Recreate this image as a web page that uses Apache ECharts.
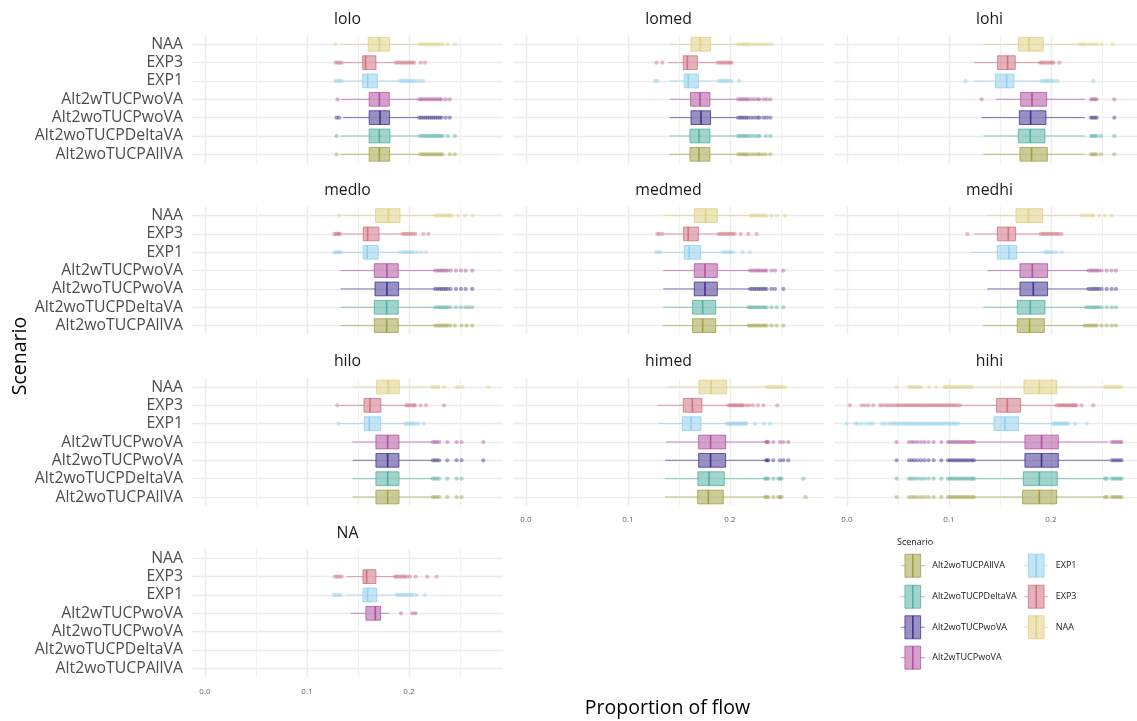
<!DOCTYPE html>
<html><head><meta charset="utf-8">
<script src="https://cdn.jsdelivr.net/npm/echarts@6/dist/echarts.min.js"></script>
<style>html,body{margin:0;padding:0;background:#fff}#c{width:1137px;height:721px}</style>
</head><body><div id="c"></div>
<script>
// ---------- categories ----------
const scenarios = ['Alt2woTUCPAllVA','Alt2woTUCPDeltaVA','Alt2woTUCPwoVA','Alt2wTUCPwoVA','EXP1','EXP3','NAA'];
const panelNames = ['lolo','lomed','lohi','medlo','medmed','medhi','hilo','himed','hihi','NA'];
const colors = ['#999933','#44AA99','#332288','#AA4499','#88CCEE','#CC6677','#DDCC77'];
const legendOrder = [0,1,2,3,4,5,6];

// ---------- box stats: [min whisker, Q1, median, Q3, max whisker], order = scenarios ----------
const box_lolo = [
 [0.133,0.161,0.171,0.181,0.210],[0.133,0.161,0.171,0.1814,0.210],[0.1356,0.161,0.1716,0.181,0.209],
 [0.1335,0.161,0.171,0.1807,0.209],[0.135,0.1546,0.1595,0.169,0.190],[0.135,0.1546,0.1575,0.1676,0.186],
 [0.133,0.160,0.171,0.181,0.209]];
const box_lomed = [
 [0.1405,0.1608,0.1696,0.1804,0.207],[0.1405,0.1608,0.1696,0.1804,0.207],[0.141,0.1618,0.1716,0.181,0.207],
 [0.141,0.1614,0.1706,0.1804,0.207],[0.1402,0.1552,0.1591,0.169,0.188],[0.1395,0.1542,0.1582,0.168,0.187],
 [0.1405,0.1618,0.1709,0.181,0.2075]];
const box_lohi = [
 [0.1337,0.1696,0.181,0.1964,0.2333],[0.1337,0.168,0.1797,0.1941,0.2333],[0.132,0.169,0.1801,0.1951,0.2333],
 [0.1458,0.1703,0.1814,0.1958,0.2333],[0.1239,0.1458,0.1566,0.1637,0.1905],[0.1245,0.1477,0.1575,0.165,0.189],
 [0.1337,0.168,0.1784,0.1925,0.228]];
const box_medlo = [
 [0.133,0.166,0.1781,0.1895,0.2255],[0.133,0.166,0.1781,0.1895,0.2255],[0.133,0.1667,0.1784,0.1899,0.2255],
 [0.133,0.166,0.1784,0.1895,0.2255],[0.134,0.1552,0.1591,0.1699,0.1912],[0.134,0.1552,0.1595,0.1706,0.1938],
 [0.1356,0.1673,0.1797,0.1912,0.2255]];
const box_medmed = [
 [0.1346,0.1634,0.1732,0.186,0.218],[0.1346,0.1634,0.1732,0.186,0.218],[0.1346,0.165,0.1755,0.1876,0.2196],
 [0.1346,0.165,0.1755,0.1876,0.2196],[0.1346,0.1552,0.1601,0.1712,0.1928],[0.1346,0.1546,0.1591,0.169,0.1885],
 [0.1346,0.165,0.1762,0.1876,0.2203]];
const box_medhi = [
 [0.1337,0.167,0.179,0.1935,0.2327],[0.1337,0.167,0.1797,0.1941,0.2343],[0.1376,0.1696,0.1827,0.1967,0.2366],
 [0.1376,0.1696,0.1817,0.1967,0.2366],[0.1216,0.1474,0.1588,0.1664,0.1941],[0.1245,0.1474,0.1582,0.1654,0.1899],
 [0.137,0.1657,0.1778,0.1918,0.2301]];
const box_hilo = [
 [0.1448,0.1676,0.1791,0.1902,0.2232],[0.1448,0.1676,0.1791,0.1902,0.2232],[0.1448,0.1676,0.1791,0.1902,0.2232],
 [0.1448,0.1676,0.1791,0.1902,0.2232],[0.132,0.1562,0.1611,0.1722,0.1961],[0.132,0.1559,0.1618,0.1725,0.1971],
 [0.1454,0.1683,0.1797,0.1905,0.2229]];
const box_himed = [
 [0.1363,0.1683,0.1788,0.1934,0.2343],[0.1363,0.1686,0.1794,0.1944,0.2343],[0.1363,0.1693,0.181,0.1958,0.2353],
 [0.1373,0.1693,0.181,0.1958,0.2353],[0.1297,0.1533,0.1618,0.1716,0.1967],[0.1291,0.1542,0.1631,0.1725,0.1984],
 [0.1386,0.1696,0.1814,0.1967,0.236]];
const box_hihi = [
 [0.1255,0.1722,0.1886,0.2056,0.2529],[0.1255,0.1729,0.1886,0.2062,0.2529],[0.1255,0.1745,0.1908,0.2072,0.2575],
 [0.1255,0.1745,0.1908,0.2072,0.2562],[0.1095,0.1441,0.1549,0.168,0.2016],[0.111,0.1467,0.1572,0.1703,0.2056],
 [0.1245,0.1735,0.1886,0.2056,0.2529]];
const box_NA = [
 null,null,null,
 [0.1428,0.1578,0.167,0.1722,0.1807],[0.1389,0.1549,0.1595,0.1683,0.1879],[0.1389,0.1549,0.1585,0.1676,0.1863],
 null];

// ---------- outliers, order = scenarios ----------
const out_lolo = [
 [0.129,0.211,0.213,0.215,0.217,0.219,0.221,0.223,0.225,0.227,0.229,0.231,0.233,0.240,0.245],
 [0.129,0.211,0.213,0.215,0.217,0.219,0.221,0.223,0.225,0.227,0.229,0.231,0.233,0.238,0.245],
 [0.129,0.1315,0.210,0.212,0.214,0.216,0.218,0.220,0.222,0.224,0.226,0.228,0.230,0.232,0.236,0.240],
 [0.130,0.210,0.212,0.214,0.216,0.218,0.220,0.222,0.224,0.226,0.228,0.230,0.232,0.236,0.240],
 [0.128,0.130,0.132,0.134,0.191,0.193,0.195,0.197,0.199,0.201,0.203,0.205,0.208,0.211,0.214],
 [0.128,0.130,0.132,0.134,0.187,0.189,0.191,0.193,0.195,0.197,0.199,0.201,0.203,0.205,0.2115,0.2157],
 [0.128,0.210,0.212,0.214,0.216,0.218,0.220,0.222,0.224,0.226,0.228,0.230,0.233,0.238,0.245]];
const out_lomed = [
 [0.208,0.210,0.212,0.214,0.216,0.218,0.221,0.224,0.227,0.229,0.232,0.235,0.2395],
 [0.208,0.210,0.212,0.214,0.216,0.218,0.221,0.224,0.227,0.229,0.235,0.2395],
 [0.208,0.210,0.212,0.214,0.216,0.218,0.221,0.224,0.227,0.229,0.233,0.236,0.2395],
 [0.208,0.210,0.212,0.214,0.216,0.218,0.221,0.224,0.227,0.229,0.233,0.236,0.2395],
 [0.1265,0.129,0.189,0.191,0.193,0.195,0.197,0.199,0.2015,0.209],
 [0.128,0.1336,0.188,0.190,0.192,0.194,0.196,0.198,0.200,0.2015],
 [0.208,0.210,0.212,0.214,0.216,0.218,0.220,0.223,0.226,0.229,0.232,0.235,0.238,0.241]];
const out_lohi = [
 [0.2392,0.241,0.243,0.2448,0.249,0.2621],
 [0.2392,0.241,0.243,0.2448,0.249,0.2621],
 [0.2392,0.241,0.243,0.2448,0.2621],
 [0.132,0.2392,0.241,0.243,0.2448,0.2621],
 [0.1163,0.191,0.193,0.195,0.197,0.199,0.201,0.203,0.2065,0.2415],
 [0.1895,0.191,0.193,0.195,0.197,0.199,0.201,0.2025,0.2082],
 [0.2285,0.231,0.233,0.236,0.239,0.242,0.245,0.2495,0.2605]];
const out_medlo = [
 [0.2258,0.228,0.230,0.232,0.234,0.236,0.238,0.2408,0.2451,0.2516,0.2565,0.262],
 [0.2258,0.228,0.230,0.232,0.234,0.236,0.238,0.2408,0.2461,0.251,0.2556,0.2588,0.262],
 [0.2258,0.228,0.230,0.232,0.234,0.236,0.238,0.2408,0.2461,0.251,0.2556,0.262],
 [0.2258,0.228,0.230,0.232,0.234,0.236,0.238,0.2408,0.2461,0.251,0.2556,0.262],
 [0.1268,0.1285,0.130,0.1315,0.1333,0.1915,0.194,0.196,0.198,0.200,0.202,0.204,0.2075,0.212,0.2167],
 [0.1268,0.1285,0.130,0.1315,0.1324,0.194,0.196,0.198,0.200,0.202,0.204,0.2062,0.2141,0.219],
 [0.1317,0.2258,0.228,0.230,0.232,0.234,0.236,0.238,0.240,0.2418,0.2484,0.2549,0.2624]];
const out_medmed = [
 [0.2182,0.220,0.222,0.224,0.226,0.228,0.230,0.232,0.234,0.2359,0.2408,0.2458,0.2523],
 [0.2182,0.220,0.222,0.224,0.226,0.228,0.230,0.232,0.234,0.2359,0.2408,0.2458,0.2523],
 [0.2198,0.222,0.224,0.226,0.228,0.230,0.232,0.234,0.2359,0.2408,0.2441,0.2523],
 [0.2198,0.222,0.224,0.226,0.228,0.230,0.232,0.234,0.2359,0.2408,0.2441,0.2523],
 [0.1275,0.1298,0.132,0.193,0.195,0.197,0.199,0.201,0.2034,0.2124,0.2196],
 [0.1288,0.131,0.1336,0.189,0.191,0.193,0.195,0.197,0.199,0.201,0.203,0.2049,0.2105,0.218,0.2262],
 [0.2205,0.222,0.224,0.226,0.228,0.230,0.232,0.234,0.2359,0.2408,0.2458,0.2539]];
const out_medhi = [
 [0.2329,0.235,0.237,0.239,0.241,0.243,0.245,0.2497,0.2546,0.2595,0.2637],
 [0.2345,0.237,0.239,0.241,0.243,0.245,0.247,0.2497,0.2546,0.2595,0.2637],
 [0.2368,0.239,0.241,0.243,0.245,0.247,0.2497,0.2546,0.2595,0.2637],
 [0.2368,0.239,0.241,0.243,0.245,0.247,0.2497,0.2546,0.2595,0.2637],
 [0.1943,0.196,0.198,0.200,0.202,0.2055,0.2105],
 [0.118,0.1901,0.192,0.194,0.196,0.198,0.200,0.202,0.204,0.206,0.208,0.2105],
 [0.2303,0.2325,0.235,0.2375,0.240,0.2415,0.2474,0.2529,0.2595]];
const out_hilo = [
 [0.2234,0.2255,0.2275,0.2297,0.2376,0.2467,0.2516],
 [0.2234,0.2255,0.2275,0.2297,0.2376,0.2467,0.2516],
 [0.2234,0.2255,0.2275,0.2297,0.2376,0.2467,0.2516,0.2729],
 [0.2234,0.2255,0.2275,0.2297,0.2376,0.2467,0.2516,0.2729],
 [0.1307,0.1963,0.198,0.200,0.202,0.204,0.206,0.2092,0.2147],
 [0.1297,0.1973,0.199,0.201,0.203,0.205,0.2059,0.2114,0.2167,0.2343],
 [0.2231,0.225,0.2272,0.2288,0.2346,0.2467,0.249,0.2526,0.2778]];
const out_himed = [
 [0.2345,0.236,0.2376,0.2425,0.2475,0.249,0.2507,0.2742],
 [0.2345,0.236,0.2376,0.2425,0.2475,0.249,0.2507,0.2719],
 [0.2355,0.2365,0.2376,0.2425,0.249,0.2523,0.2572],
 [0.2355,0.2365,0.2376,0.2425,0.249,0.2523,0.2572],
 [0.1969,0.1985,0.200,0.2015,0.203,0.2045,0.206,0.2075,0.209,0.2105,0.212,0.2135,0.215,0.2163,0.2245,0.2333,0.2392],
 [0.1986,0.200,0.2015,0.203,0.2045,0.206,0.2075,0.209,0.2105,0.212,0.2131,0.2163,0.219,0.2225,0.2275,0.2327,0.2464],
 [0.2362,0.238,0.240,0.242,0.244,0.246,0.248,0.250,0.252,0.2542]];
const out_hihi = [
 [0.0487,0.0608,0.0635,0.066,0.069,0.0725,0.076,0.080,0.085,0.0925,0.099,0.101,0.103,0.105,0.107,0.109,0.111,0.113,0.115,0.117,0.119,0.121,0.123,0.1245,
  0.2531,0.255,0.2595,0.2615,0.2635,0.2655,0.2675,0.2693],
 [0.0487,0.0608,0.0635,0.066,0.069,0.0725,0.076,0.080,0.085,0.0925,0.099,0.101,0.103,0.105,0.107,0.109,0.111,0.113,0.115,0.117,0.119,0.121,0.123,0.1245,
  0.2531,0.255,0.2595,0.2615,0.2635,0.2655,0.2675,0.2693],
 [0.0487,0.0608,0.0635,0.066,0.069,0.0725,0.076,0.080,0.085,0.0925,0.099,0.101,0.103,0.105,0.107,0.109,0.111,0.113,0.115,0.117,0.119,0.121,0.123,0.1245,
  0.2595,0.2615,0.2635,0.2655,0.2675,0.2693],
 [0.0487,0.0608,0.0635,0.066,0.069,0.0725,0.076,0.080,0.085,0.0925,0.099,0.101,0.103,0.105,0.107,0.109,0.111,0.113,0.115,0.117,0.119,0.121,0.123,0.1245,
  0.2595,0.2615,0.2635,0.2655,0.2675,0.2693],
 [-0.0003,0.0078,0.0105,0.0145,0.019,0.0225,0.0258,0.0343,0.037,0.040,0.0425,0.045,0.047,0.049,0.051,0.053,0.055,0.057,0.059,0.061,0.063,0.065,0.067,0.069,
  0.071,0.073,0.075,0.077,0.079,0.081,0.083,0.085,0.087,0.089,0.091,0.093,0.095,0.097,0.099,0.101,0.103,0.105,0.107,0.109,
  0.2018,0.2035,0.205,0.2065,0.208,0.2095,0.211,0.2125,0.214,0.2155,0.217,0.2235,0.235],
 [0.0029,0.0144,0.0175,0.021,0.0258,0.0323,0.035,0.038,0.0405,0.043,0.0455,0.048,0.050,0.052,0.054,0.056,0.058,0.060,0.062,0.064,0.066,0.068,0.070,0.072,
  0.074,0.076,0.078,0.080,0.082,0.084,0.086,0.088,0.090,0.092,0.094,0.096,0.098,0.100,0.102,0.104,0.106,0.108,0.1105,
  0.2058,0.2075,0.209,0.2105,0.212,0.2135,0.215,0.2165,0.218,0.2195,0.221,0.2225,0.224,0.2252,0.2301,0.2415],
 [0.0487,0.0605,0.0625,0.0645,0.0665,0.0685,0.0705,0.073,0.0807,0.0872,0.0954,0.097,0.099,0.101,0.103,0.105,0.107,0.109,0.111,0.113,0.115,0.117,0.119,0.121,0.123,
  0.2531,0.255,0.257,0.259,0.261,0.263,0.265,0.267,0.2693]];
const out_NA = [
 [],[],[],
 [0.1922,0.2033,0.2065],
 [0.1265,0.1285,0.131,0.1333,0.188,0.190,0.192,0.194,0.196,0.198,0.200,0.202,0.204,0.2075,0.2157],
 [0.1275,0.1295,0.1315,0.134,0.1865,0.188,0.190,0.192,0.194,0.196,0.198,0.201,0.2065,0.218,0.2271],
 []];

// ---------- layout ----------
const FONT = 'Open Sans';
const colLeft = [192, 513, 834];
const rowTop = [33.3, 204.6, 376, 547.3];
const PANEL_W = 311, PANEL_H = 132;
const BAND = PANEL_H / 7.2;
const X_MIN = -0.0127, X_MAX = 0.2922;

const panels = [
 {title:'lolo',   box:box_lolo,   out:out_lolo,   col:0,row:0,ylab:true, xlab:false},
 {title:'lomed',  box:box_lomed,  out:out_lomed,  col:1,row:0,ylab:false,xlab:false},
 {title:'lohi',   box:box_lohi,   out:out_lohi,   col:2,row:0,ylab:false,xlab:false},
 {title:'medlo',  box:box_medlo,  out:out_medlo,  col:0,row:1,ylab:true, xlab:false},
 {title:'medmed', box:box_medmed, out:out_medmed, col:1,row:1,ylab:false,xlab:false},
 {title:'medhi',  box:box_medhi,  out:out_medhi,  col:2,row:1,ylab:false,xlab:false},
 {title:'hilo',   box:box_hilo,   out:out_hilo,   col:0,row:2,ylab:true, xlab:false},
 {title:'himed',  box:box_himed,  out:out_himed,  col:1,row:2,ylab:false,xlab:true},
 {title:'hihi',   box:box_hihi,   out:out_hihi,   col:2,row:2,ylab:false,xlab:true},
 {title:'NA',     box:box_NA,     out:out_NA,     col:0,row:3,ylab:true, xlab:true}
];

function rgba(hex, a) {
  const n = parseInt(hex.slice(1), 16);
  return 'rgba(' + ((n >> 16) & 255) + ',' + ((n >> 8) & 255) + ',' + (n & 255) + ',' + a + ')';
}

function renderBox(params, api) {
  const cat = api.value(0);
  const lo = api.coord([api.value(1), cat]);
  const q1 = api.coord([api.value(2), cat]);
  const md = api.coord([api.value(3), cat]);
  const q3 = api.coord([api.value(4), cat]);
  const hi = api.coord([api.value(5), cat]);
  const h = api.size([0, 1])[1] * 0.75;
  const c = colors[cat];
  return {
    type: 'group',
    children: [
      {type:'line', shape:{x1:lo[0],y1:lo[1],x2:q1[0],y2:q1[1]}, style:{stroke:rgba(c,0.6),lineWidth:1}},
      {type:'line', shape:{x1:q3[0],y1:q3[1],x2:hi[0],y2:hi[1]}, style:{stroke:rgba(c,0.6),lineWidth:1}},
      {type:'rect', shape:{x:q1[0],y:q1[1]-h/2,width:q3[0]-q1[0],height:h},
       style:{fill:rgba(c,0.5),stroke:rgba(c,0.7),lineWidth:1}},
      {type:'line', shape:{x1:md[0],y1:md[1]-h/2,x2:md[0],y2:md[1]+h/2}, style:{stroke:rgba(c,0.85),lineWidth:1.6}}
    ]
  };
}

const grids = [], xAxes = [], yAxes = [], series = [], graphics = [];

panels.forEach((p, i) => {
  const left = colLeft[p.col];
  const top = rowTop[p.row];
  grids.push({left:left, top:top + 0.1*BAND, width:PANEL_W, height:7*BAND,
              containLabel:false, outerBoundsMode:'none'});
  xAxes.push({
    type:'value', gridIndex:i, min:X_MIN, max:X_MAX, splitNumber:3, minInterval:0.1, maxInterval:0.1,
    axisLine:{show:false}, axisTick:{show:false},
    axisLabel:{show:p.xlab, formatter:v => v.toFixed(1), showMinLabel:false, showMaxLabel:false,
               fontSize:8, color:'#666', fontFamily:FONT, margin:10},
    splitLine:{show:true, showMinLine:false, showMaxLine:false, lineStyle:{color:'#ebebeb', width:1.4}},
    minorTick:{show:false, splitNumber:2},
    minorSplitLine:{show:true, lineStyle:{color:'#efefef', width:0.9}}
  });
  yAxes.push({
    type:'category', gridIndex:i, data:scenarios,
    axisLine:{show:false}, axisTick:{show:false},
    axisLabel:{show:p.ylab, interval:0, fontSize:15.8, color:'#4d4d4d', fontFamily:FONT, margin:9},
    splitLine:{show:true, interval:0, alignWithLabel:true, lineStyle:{color:'#ebebeb', width:1.4}}
  });
  const boxData = [];
  p.box.forEach((b, k) => { if (b) boxData.push([k, b[0], b[1], b[2], b[3], b[4]]); });
  series.push({
    type:'custom', xAxisIndex:i, yAxisIndex:i, renderItem:renderBox, silent:true, z:2,
    encode:{x:[1,2,3,4,5], y:0}, data:boxData
  });
  const outData = [];
  p.out.forEach((arr, k) => arr.forEach(v => outData.push([v, k])));
  series.push({
    type:'scatter', xAxisIndex:i, yAxisIndex:i, silent:true, z:3, symbolSize:4.2,
    data:outData,
    itemStyle:{color:params => colors[params.value[1]], opacity:0.42}
  });
  graphics.push({type:'text', x:left + PANEL_W/2, y:top - 14.3, silent:true,
    style:{text:p.title, textAlign:'center', textVerticalAlign:'middle', fontFamily:FONT, fontSize:15.8, fill:'#1a1a1a'}});
});

// axis titles
graphics.push({type:'text', x:667.5, y:708, silent:true,
  style:{text:'Proportion of flow', textAlign:'center', textVerticalAlign:'middle', fontFamily:FONT, fontSize:19.5, fill:'#000'}});
graphics.push({type:'text', x:20, y:356, rotation:Math.PI/2, silent:true,
  style:{text:'Scenario', textAlign:'center', textVerticalAlign:'middle', fontFamily:FONT, fontSize:19.5, fill:'#000'}});

// legend
graphics.push({type:'text', x:897, y:542, silent:true,
  style:{text:'Scenario', textAlign:'left', textVerticalAlign:'middle', fontFamily:FONT, fontSize:9, fill:'#1a1a1a'}});
const legRowY = [565.7, 596.7, 627.3, 657.7];
const legBoxX = [912.8, 1036.2];
const legTextX = [932.3, 1055.7];
legendOrder.forEach((k, j) => {
  const col = j < 4 ? 0 : 1;
  const row = j < 4 ? j : j - 4;
  const cx = legBoxX[col], cy = legRowY[row], c = colors[k];
  graphics.push({type:'group', silent:true, children:[
    {type:'line', shape:{x1:cx-12, y1:cy, x2:cx-7.85, y2:cy}, style:{stroke:rgba(c,0.6), lineWidth:1}},
    {type:'line', shape:{x1:cx+7.85, y1:cy, x2:cx+12, y2:cy}, style:{stroke:rgba(c,0.6), lineWidth:1}},
    {type:'rect', shape:{x:cx-7.85, y:cy-11.5, width:15.7, height:23}, style:{fill:rgba(c,0.5), stroke:rgba(c,0.7), lineWidth:1}},
    {type:'line', shape:{x1:cx, y1:cy-11.5, x2:cx, y2:cy+11.5}, style:{stroke:rgba(c,0.85), lineWidth:1.6}},
    {type:'text', x:legTextX[col], y:cy, style:{text:scenarios[k], textAlign:'left', textVerticalAlign:'middle', fontFamily:FONT, fontSize:9, fill:'#1a1a1a'}}
  ]});
});

const chart = echarts.init(document.getElementById('c'), null, {renderer:'canvas'});
chart.setOption({
  animation:false,
  backgroundColor:'#ffffff',
  grid:grids, xAxis:xAxes, yAxis:yAxes, series:series,
  graphic:{elements:graphics}
});
</script>
</body></html>
